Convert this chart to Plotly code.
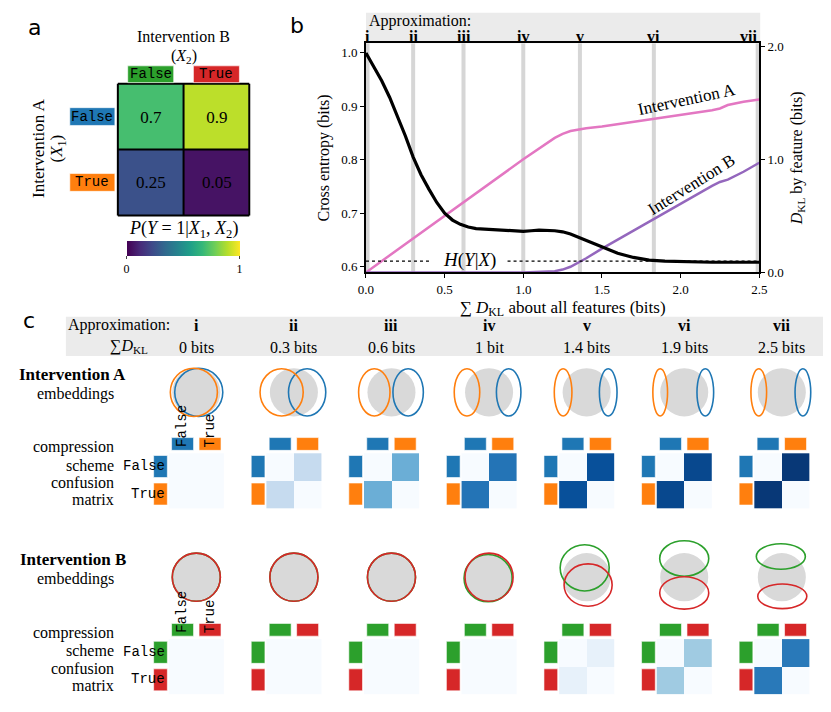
import plotly.graph_objects as go

W, H = 831, 712
def fx(px): return px / W
def fy(py): return 1 - py / H

SERIF = "Liberation Serif"
MONO = "Liberation Mono"
SANS = "DejaVu Sans"

# ---------------- data ----------------
# (a) P(Y=1 | X1, X2)
a_row_labels = ["False", "True"]          # Intervention A (X1)
a_col_labels = ["False", "True"]          # Intervention B (X2)
p_y1 = [[0.7, 0.9], [0.25, 0.05]]
p_y1_text = [["0.7", "0.9"], ["0.25", "0.05"]]

# (b) cross entropy vs total D_KL
ce_x = [0.0, 0.05, 0.1, 0.15, 0.2, 0.25, 0.3, 0.35, 0.4, 0.45, 0.5, 0.55, 0.6, 0.65,
        0.7, 0.8, 0.9, 1.0, 1.05, 1.1, 1.2, 1.25, 1.3, 1.35, 1.4, 1.5, 1.6, 1.7,
        1.8, 1.9, 2.0, 2.2, 2.5]
ce_bits = [1.0, 0.975, 0.948, 0.917, 0.882, 0.845, 0.805, 0.772, 0.745, 0.72, 0.700,
           0.687, 0.679, 0.674, 0.671, 0.669, 0.668, 0.666, 0.667, 0.668, 0.667, 0.665,
           0.661, 0.655, 0.648, 0.636, 0.625, 0.617, 0.612, 0.610, 0.609, 0.608, 0.608]
# D_KL by feature
dkl_x = [0.0, 0.5, 1.0, 1.2, 1.25, 1.3, 1.35, 1.4, 1.5, 1.6, 1.7, 1.8, 1.9, 2.0,
         2.1, 2.2, 2.25, 2.3, 2.4, 2.5]
dkl_A = [0.0, 0.5, 1.0, 1.19, 1.225, 1.25, 1.265, 1.275, 1.29, 1.31, 1.33, 1.355,
         1.37, 1.39, 1.41, 1.435, 1.45, 1.48, 1.51, 1.53]
dkl_B = [0.0, 0.0, 0.0, 0.01, 0.025, 0.05, 0.085, 0.125, 0.21, 0.29, 0.37, 0.445,
         0.53, 0.61, 0.69, 0.765, 0.80, 0.82, 0.89, 0.97]
h_cond = 0.61
h_line_x = [0.0, 0.42, None, 0.9, 2.5]
approx_names = ["i", "ii", "iii", "iv", "v", "vi", "vii"]
approx_dkl = [0.01, 0.30, 0.62, 1.00, 1.36, 1.83, 2.49]
approx_dkl_text = ["0 bits", "0.3 bits", "0.6 bits", "1 bit", "1.4 bits", "1.9 bits", "2.5 bits"]

# (c) confusion matrices: diagonal and off-diagonal intensities
confA_diag = [0.0, 0.0, 0.0, 0.0, 0.0, 0.0, 0.0]
confA_off = [0.0, 0.25, 0.50, 0.74, 0.88, 0.91, 0.97]
confB_diag = [0.0, 0.0, 0.0, 0.0, 0.0, 0.0, 0.0]
confB_off = [0.0, 0.0, 0.0, 0.0, 0.08, 0.37, 0.72]

# (c) embeddings: ellipse centre offsets and semi-axes (embedding units)
emb_gray_r = 24.5
embA_false_dx = [2.5, 13.5, 17.0, 20.0, 22.0, 21.5, 21.5]
embA_false_rx = [24.5, 19.0, 15.5, 12.5, 9.0, 8.5, 8.0]
embA_false_ry = [24.5, 24.0, 24.0, 24.0, 24.0, 24.0, 24.0]
embA_true_dx = [-2.5, -12.5, -17.5, -22.5, -24.0, -24.5, -23.5]
embA_true_rx = [24.0, 22.0, 16.0, 13.0, 9.0, 7.5, 8.0]
embA_true_ry = [24.5, 24.0, 24.0, 24.0, 24.0, 24.0, 24.0]

embB_false_dx = [0.0, 0.0, 0.0, -1.0, -2.0, 0.0, -1.0]
embB_false_dy = [0.0, 0.0, 0.0, 1.0, -9.5, -19.0, -21.0]
embB_false_rx = [24.5, 24.5, 24.5, 24.5, 25.0, 25.0, 25.0]
embB_false_ry = [24.5, 24.5, 24.5, 24.0, 23.5, 18.0, 13.0]
embB_true_dx = [0.0, 0.0, 0.0, 0.0, 1.5, 0.0, 0.5]
embB_true_dy = [0.0, 0.0, 0.0, 0.0, 8.0, 16.0, 19.5]
embB_true_rx = [24.5, 24.5, 24.5, 24.5, 24.5, 25.0, 25.0]
embB_true_ry = [24.5, 24.5, 24.5, 24.5, 21.5, 16.5, 12.5]

A_COLORS = ["#1f77b4", "#ff7f0e"]   # False, True
B_COLORS = ["#2ca02c", "#d62728"]   # False, True
BLUES = ['#f7fbff', '#deebf7', '#c6dbef', '#9ecae1', '#6baed6',
         '#4292c6', '#2171b5', '#08519c', '#08306b']
BLUES_SCALE = [[i / (len(BLUES) - 1), c] for i, c in enumerate(BLUES)]

# ---------------- figure ----------------
fig = go.Figure()
L = dict(width=W, height=H, margin=dict(l=0, r=0, t=0, b=0),
         paper_bgcolor='white', plot_bgcolor='white', showlegend=False,
         font=dict(family=SERIF, color='black', size=15))
shapes = []
ann = []

def add_ann(text, x, y, size=15, xref='paper', yref='paper', xanchor='center',
            yanchor='middle', family=SERIF, angle=0):
    ann.append(dict(text=text, x=x, y=y, xref=xref, yref=yref, xanchor=xanchor,
                    yanchor=yanchor, showarrow=False, textangle=angle,
                    font=dict(family=family, size=size, color='black')))

BOX_EDGE = dict(color='rgba(255,255,255,0.6)', width=1)

# ===== panel a =====
CELL_A = 67
a_x0, a_y0 = 112, 81
a_pad_l, a_pad_t, a_pad_e = 52, 21, 2
nr, nc = len(a_row_labels), len(a_col_labels)
L['xaxis'] = dict(domain=[fx(a_x0 - a_pad_l), fx(a_x0 + nc * CELL_A + a_pad_e)],
                  range=[-0.5 - a_pad_l / CELL_A, nc - 0.5 + a_pad_e / CELL_A],
                  visible=False, anchor='y')
L['yaxis'] = dict(domain=[fy(a_y0 + nr * CELL_A + a_pad_e), fy(a_y0 - a_pad_t)],
                  range=[nr - 0.5 + a_pad_e / CELL_A, -0.5 - a_pad_t / CELL_A],
                  visible=False, anchor='x')
fig.add_trace(go.Heatmap(
    z=p_y1, x=list(range(nc)), y=list(range(nr)), text=p_y1_text,
    texttemplate='%{text}', textfont=dict(family=SERIF, size=17, color='black'),
    colorscale='Viridis', zmin=0, zmax=1, xaxis='x', yaxis='y', hoverinfo='skip',
    colorbar=dict(orientation='h', x=fx(178.5), xanchor='center', y=fy(241),
                  yanchor='top', len=113, lenmode='pixels', thickness=15,
                  tickvals=[0, 1], ticks='outside', ticklen=3, tickwidth=1,
                  tickfont=dict(family=SERIF, size=12), outlinewidth=0,
                  xpad=0, ypad=0)))
for j in range(nc + 1):
    shapes.append(dict(type='line', xref='x', yref='y', x0=j - 0.5, x1=j - 0.5,
                       y0=-0.5, y1=nr - 0.5, line=dict(color='black', width=2), layer='above'))
for i in range(nr + 1):
    shapes.append(dict(type='line', xref='x', yref='y', y0=i - 0.5, y1=i - 0.5,
                       x0=-0.5, x1=nc - 0.5, line=dict(color='black', width=2), layer='above'))
for j, lab in enumerate(a_col_labels):
    shapes.append(dict(type='rect', xref='x', yref='y', x0=j - 0.35, x1=j + 0.35,
                       y0=-0.77, y1=-0.515, fillcolor=B_COLORS[j], line=BOX_EDGE, layer='above'))
    add_ann(lab, j, -0.64, size=14, xref='x', yref='y', family=MONO)
for i, lab in enumerate(a_row_labels):
    shapes.append(dict(type='rect', xref='x', yref='y', x0=-1.231, x1=-0.545,
                       y0=i - 0.135, y1=i + 0.135, fillcolor=A_COLORS[i], line=BOX_EDGE, layer='above'))
    add_ann(lab, -0.888, i, size=14, xref='x', yref='y', family=MONO)
add_ann("Intervention B", fx(179), fy(33), size=16)
add_ann("(<i>X</i><sub>2</sub>)", fx(179), fy(53), size=16)
add_ann("Intervention A", fx(31), fy(147), size=17, angle=-90)
add_ann("(<i>X</i><sub>1</sub>)", fx(51), fy(147), size=17, angle=-90)
add_ann("<i>P</i>(<i>Y</i> = 1|<i>X</i><sub>1</sub>, <i>X</i><sub>2</sub>)", fx(179), fy(229), size=18)
add_ann("a", fx(27), fy(24), size=22, family=SANS)

# ===== panel b =====
b_l, b_r, b_t, b_b = 365, 766, 40, 273
tick_font = dict(family=SERIF, size=13, color='black')
axis_common = dict(showline=True, linecolor='black', linewidth=1.5, ticks='outside',
                   ticklen=4, tickwidth=1.2, tickcolor='black', showgrid=False,
                   zeroline=False, tickfont=tick_font)
L['xaxis2'] = dict(domain=[fx(b_l), fx(b_r)], anchor='y2', range=[0, 2.5],
                   tickvals=[0, 0.5, 1, 1.5, 2, 2.5],
                   ticktext=["0.0", "0.5", "1.0", "1.5", "2.0", "2.5"], mirror=True,
                   title=dict(text="∑ <i>D</i><sub>KL</sub> about all features (bits)",
                              font=dict(family=SERIF, size=17), standoff=5),
                   **axis_common)
L['yaxis2'] = dict(domain=[fy(b_b), fy(b_t)], anchor='x2', side='right', range=[0, 2.026],
                   tickvals=[0, 1, 2], ticktext=["0.0", "1.0", "2.0"],
                   title=dict(text="<i>D</i><sub>KL</sub> by feature (bits)",
                              font=dict(family=SERIF, size=16), standoff=8),
                   **axis_common)
L['yaxis3'] = dict(overlaying='y2', anchor='x2', side='left', range=[0.589, 1.018],
                   tickvals=[0.6, 0.7, 0.8, 0.9, 1.0],
                   ticktext=["0.6", "0.7", "0.8", "0.9", "1.0"],
                   title=dict(text="Cross entropy (bits)", font=dict(family=SERIF, size=16),
                              standoff=8),
                   **axis_common)
fig.add_trace(go.Scatter(x=dkl_x, y=dkl_A, xaxis='x2', yaxis='y2', mode='lines',
                         line=dict(color='#e377c2', width=2.5), hoverinfo='skip'))
fig.add_trace(go.Scatter(x=dkl_x, y=dkl_B, xaxis='x2', yaxis='y2', mode='lines',
                         line=dict(color='#9467bd', width=2.5), hoverinfo='skip'))
fig.add_trace(go.Scatter(x=h_line_x, y=[h_cond if v is not None else None for v in h_line_x],
                         xaxis='x2', yaxis='y3', mode='lines',
                         line=dict(color='black', width=1.2, dash='dot'), hoverinfo='skip'))
fig.add_trace(go.Scatter(x=ce_x, y=ce_bits, xaxis='x2', yaxis='y3', mode='lines',
                         line=dict(color='black', width=3.2), hoverinfo='skip'))
for xv in approx_dkl:
    shapes.append(dict(type='line', xref='x2', yref='y2 domain', x0=xv, x1=xv, y0=0, y1=1,
                       line=dict(color='#d6d6d6', width=4), layer='below'))
shapes.append(dict(type='rect', xref='paper', yref='paper', x0=fx(b_l), x1=fx(b_r + 1),
                   y0=fy(b_t), y1=fy(9), fillcolor='#ebebeb', line=dict(width=0), layer='below'))
add_ann("Approximation:", fx(b_l + 1), fy(17), size=16, xanchor='left')
for k, (nm, xv) in enumerate(zip(approx_names, approx_dkl)):
    xa = 'right' if k == len(approx_names) - 1 else 'center'
    add_ann(f"<b>{nm}</b>", 2.5 if xa == 'right' else xv, fy(33), size=16, xref='x2', xanchor=xa)
add_ann("<i>H</i>(<i>Y</i>|<i>X</i>)", 0.66, h_cond + 0.003, size=19, xref='x2', yref='y3')
add_ann("Intervention A", 2.04, 1.53, size=17, xref='x2', yref='y2', angle=-12)
add_ann("Intervention B", 2.07, 0.78, size=17, xref='x2', yref='y2', angle=-32)
add_ann("b", fx(295), fy(22), size=22, family=SANS)

# ===== panel c =====
col_cx = [192 + 99.5 * k for k in range(len(approx_names))]
shapes.append(dict(type='rect', xref='paper', yref='paper', x0=fx(59), x1=1,
                   y0=fy(358), y1=fy(318), fillcolor='#ebebeb', line=dict(width=0), layer='below'))
add_ann("Approximation:", fx(167), fy(327), size=16, xanchor='right')
add_ann("∑<i>D</i><sub>KL</sub>", fx(145), fy(348), size=16, xanchor='right')
for k, c in enumerate(col_cx):
    add_ann(f"<b>{approx_names[k]}</b>", fx(c), fy(327), size=16)
    add_ann(approx_dkl_text[k], fx(c), fy(349), size=16)
add_ann("c", fx(21), fy(322), size=22, family=SANS)

rows = [
    dict(title="Intervention A", emb_cy=395, mat_top=457, colors=A_COLORS,
         diag=confA_diag, off=confA_off, ell=[
             (A_COLORS[0], embA_false_dx, [0.0] * 7, embA_false_rx, embA_false_ry),
             (A_COLORS[1], embA_true_dx, [0.0] * 7, embA_true_rx, embA_true_ry)]),
    dict(title="Intervention B", emb_cy=583, mat_top=646, colors=B_COLORS,
         diag=confB_diag, off=confB_off, ell=[
             (B_COLORS[0], embB_false_dx, embB_false_dy, embB_false_rx, embB_false_ry),
             (B_COLORS[1], embB_true_dx, embB_true_dy, embB_true_rx, embB_true_ry)]),
]

EMB_HALF = 40
CELL_C = 28
PAD_L, PAD_T, PAD_E = 18, 19, 1
n = 4
for r in rows:
    cy = r['emb_cy']
    mt = r['mat_top']
    add_ann(f"<b>{r['title']}</b>", fx(122), fy(cy - 18), size=17, xanchor='right')
    add_ann("embeddings", fx(110), fy(cy + 2), size=16, xanchor='right')
    for t, dy in zip(["compression", "scheme", "confusion", "matrix"], [-6, 12, 30, 47]):
        add_ann(t, fx(110), fy(mt + dy), size=16, xanchor='right')
    for k, c in enumerate(col_cx):
        # embeddings
        ax = n; n += 1
        L[f'xaxis{ax}'] = dict(domain=[fx(c - EMB_HALF), fx(c + EMB_HALF)],
                               range=[-EMB_HALF, EMB_HALF], visible=False, anchor=f'y{ax}')
        L[f'yaxis{ax}'] = dict(domain=[fy(cy + EMB_HALF), fy(cy - EMB_HALF)],
                               range=[EMB_HALF, -EMB_HALF], visible=False, anchor=f'x{ax}')
        shapes.append(dict(type='circle', xref=f'x{ax}', yref=f'y{ax}',
                           x0=-emb_gray_r, x1=emb_gray_r, y0=-emb_gray_r, y1=emb_gray_r,
                           fillcolor='#d9d9d9', line=dict(width=0), layer='above'))
        for col, dxs, dys, rxs, rys in r['ell']:
            shapes.append(dict(type='circle', xref=f'x{ax}', yref=f'y{ax}',
                               x0=dxs[k] - rxs[k], x1=dxs[k] + rxs[k],
                               y0=dys[k] - rys[k], y1=dys[k] + rys[k],
                               fillcolor='rgba(0,0,0,0)', line=dict(color=col, width=1.6),
                               layer='above'))
        # confusion matrix
        ax = n; n += 1
        left = c - CELL_C
        L[f'xaxis{ax}'] = dict(domain=[fx(left - PAD_L), fx(left + 2 * CELL_C + PAD_E)],
                               range=[-0.5 - PAD_L / CELL_C, 1.5 + PAD_E / CELL_C],
                               visible=False, anchor=f'y{ax}')
        L[f'yaxis{ax}'] = dict(domain=[fy(mt + 2 * CELL_C + PAD_E), fy(mt - PAD_T)],
                               range=[1.5 + PAD_E / CELL_C, -0.5 - PAD_T / CELL_C],
                               visible=False, anchor=f'x{ax}')
        d, o = r['diag'][k], r['off'][k]
        fig.add_trace(go.Heatmap(z=[[d, o], [o, d]], x=[0, 1], y=[0, 1],
                                 colorscale=BLUES_SCALE, zmin=0, zmax=1, showscale=False,
                                 xaxis=f'x{ax}', yaxis=f'y{ax}', hoverinfo='skip'))
        for j in range(2):
            shapes.append(dict(type='rect', xref=f'x{ax}', yref=f'y{ax}',
                               x0=j - 0.4, x1=j + 0.4, y0=-1.071, y1=-0.607,
                               fillcolor=r['colors'][j], line=BOX_EDGE, layer='above'))
            shapes.append(dict(type='rect', xref=f'x{ax}', yref=f'y{ax}',
                               x0=-1.054, x1=-0.554, y0=j - 0.42, y1=j + 0.38,
                               fillcolor=r['colors'][j], line=BOX_EDGE, layer='above'))
        if k == 0:
            for j, lab in enumerate(["False", "True"]):
                add_ann(lab, fx(c - 14 + 28 * j), fy(mt - 4), size=14, family=MONO,
                        angle=-90, yanchor='bottom')
                add_ann(lab, fx(c - 30), fy(mt + 13 + 28 * j), size=14, family=MONO,
                        xanchor='right')

L['shapes'] = shapes
L['annotations'] = ann
fig.update_layout(**L)
post = ("document.documentElement.style.margin='0px';"
        "document.body.style.margin='0px';"
        "document.documentElement.style.overflow='hidden';"
        "document.body.style.overflow='hidden';"
        "var gd=document.getElementById('{plot_id}');"
        "gd.style.display='block';"
        "if(gd.parentElement){gd.parentElement.style.lineHeight='0';"
        "gd.parentElement.style.height='712px';gd.parentElement.style.overflow='hidden';}")
fig.write_html("out.html", config={'displayModeBar': False}, post_script=post)
